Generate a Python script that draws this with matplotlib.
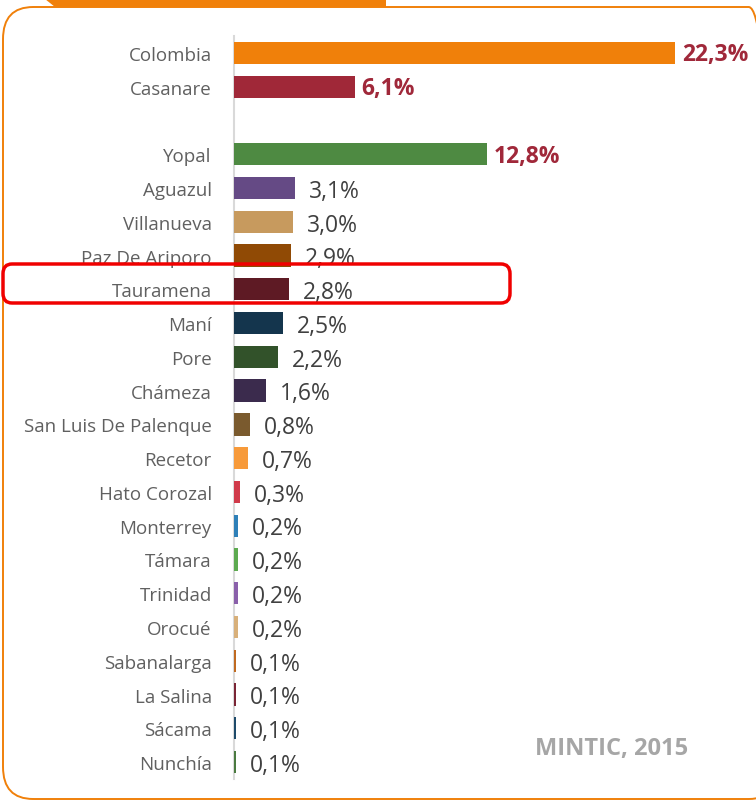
import matplotlib
matplotlib.use("Agg")
import matplotlib.pyplot as plt
from matplotlib.patches import FancyBboxPatch, Polygon

# ── Data ──────────────────────────────────────────────────
CATEGORIES = [
    "Colombia", "Casanare",
    "Yopal", "Aguazul", "Villanueva", "Paz De Ariporo", "Tauramena",
    "Maní", "Pore", "Chámeza", "San Luis De Palenque", "Recetor",
    "Hato Corozal", "Monterrey", "Támara", "Trinidad", "Orocué",
    "Sabanalarga", "La Salina", "Sácama", "Nunchía",
]
VALUES = [22.3, 6.1,
          12.8, 3.1, 3.0, 2.9, 2.8, 2.5, 2.2, 1.6, 0.8, 0.7,
          0.3, 0.2, 0.2, 0.2, 0.2, 0.1, 0.1, 0.1, 0.1]
BAR_COLORS = [
    "#F0800A", "#A02838",
    "#4E8A42", "#654A85", "#C79A5E", "#904A05", "#5E1A24",
    "#14354D", "#32522A", "#3B2B4D", "#7A5A2E", "#F79A3A",
    "#D03A4A", "#2E80B8", "#5DAA50", "#8A60AA", "#D8B07A",
    "#C06A20", "#7A2535", "#1E4A6A", "#4A7A40",
]
HIGHLIGHT = ["Colombia", "Casanare", "Yopal"]
SOURCE = "MINTIC, 2015"

FONT = ["Open Sans", "DejaVu Sans"]

# slot positions: one empty slot after Casanare
positions = [i if i < 2 else i + 1 for i in range(len(CATEGORIES))]

W, H = 756, 803
fig = plt.figure(figsize=(W / 100, H / 100), dpi=100)
fig.patch.set_facecolor("white")

# axes placed in pixel terms
x0, x1 = 234, 740
ytop, ybot = 37, 780
ax = fig.add_axes([x0 / W, 1 - ybot / H, (x1 - x0) / W, (ybot - ytop) / H])
ax.set_facecolor("none")

ax.barh(positions, VALUES, height=0.66, color=BAR_COLORS, zorder=3)
ax.set_xlim(0, (x1 - x0) / 19.78)
ax.set_ylim(positions[-1] + 0.5, -0.5)

ax.set_yticks(positions)
ax.set_yticklabels(CATEGORIES, fontsize=13.5, color="#606060", family=FONT)
ax.tick_params(axis="y", length=0, pad=16)
ax.set_xticks([])
for side in ["top", "right", "bottom"]:
    ax.spines[side].set_visible(False)
ax.spines["left"].set_color("#D9D9D9")
ax.spines["left"].set_linewidth(1.5)

for cat, pos, val in zip(CATEGORIES, positions, VALUES):
    txt = f"{val:.1f}".replace(".", ",") + "%"
    if cat in HIGHLIGHT:
        ax.annotate(txt, xy=(val, pos), xytext=(5, -1), textcoords="offset points",
                    va="center", ha="left", fontsize=16.5, fontweight="bold",
                    color="#A0283A", family=FONT)
    else:
        ax.annotate(txt, xy=(val, pos), xytext=(10, -2), textcoords="offset points",
                    va="center", ha="left", fontsize=16.5,
                    color="#404040", family=FONT)

# ── Decorations: orange frame, top tab, red highlight box ──
def px(x, y):
    return x / W, 1 - y / H

frame = FancyBboxPatch(px(3, 800), (W + 20) / W, (800 - 8) / H,
                       boxstyle="round,pad=0,rounding_size=0.04",
                       transform=fig.transFigure, fill=False,
                       edgecolor="#F0800A", linewidth=1.4, zorder=0)
fig.patches.append(frame)

tab = Polygon([px(45, 0), px(386, 0), px(386, 8), px(55, 8)], closed=True,
              transform=fig.transFigure, facecolor="#F0800A",
              edgecolor="none", zorder=1)
fig.patches.append(tab)

box = FancyBboxPatch(px(3, 304), 507 / W, 39 / H,
                     boxstyle="round,pad=0,rounding_size=0.012",
                     transform=fig.transFigure, fill=False,
                     edgecolor="#F00000", linewidth=2.5, zorder=5)
fig.patches.append(box)

fig.text(612 / W, 1 - 749 / H, SOURCE, ha="center", va="center",
         fontsize=17, fontweight="bold", color="#A6A6A6", family=FONT)

fig.savefig("out.png", dpi=100)
